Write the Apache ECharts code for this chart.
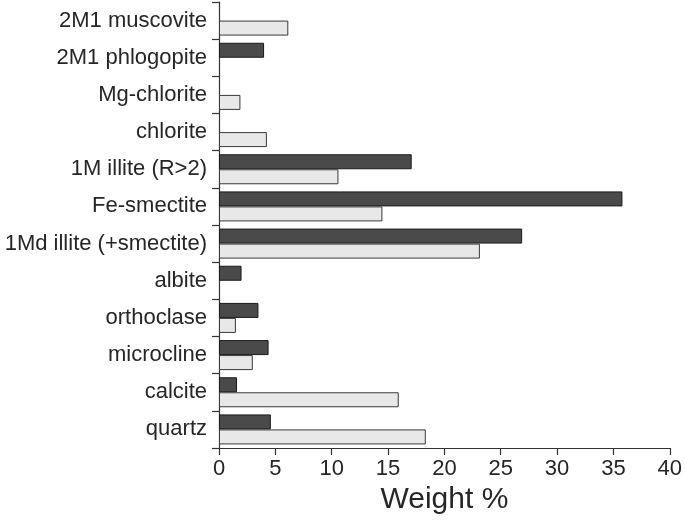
<!DOCTYPE html>
<html>
<head>
<meta charset="utf-8">
<script src="https://cdn.jsdelivr.net/npm/echarts@6/dist/echarts.min.js"></script>
<style>html,body{margin:0;padding:0;background:#fff;}#chart{width:685px;height:520px;}</style>
</head>
<body>
<div id="chart"></div>
<script>
const categories = ['2M1 muscovite','2M1 phlogopite','Mg-chlorite','chlorite','1M illite (R>2)','Fe-smectite','1Md illite (+smectite)','albite','orthoclase','microcline','calcite','quartz'];
const darkValues = [null, 4.0, null, null, 17.1, 35.8, 26.9, 2.0, 3.5, 4.4, 1.6, 4.6];
const lightValues = [6.15, null, 1.9, 4.25, 10.6, 14.5, 23.15, null, 1.5, 3.0, 15.95, 18.35];
const xTicks = [0, 5, 10, 15, 20, 25, 30, 35, 40];

const chart = echarts.init(document.getElementById('chart'), null, {renderer: 'canvas'});
const fontFam = 'Liberation Sans, Arial, sans-serif';
chart.setOption({
  animation: false,
  backgroundColor: '#ffffff',
  grid: {left: 219, right: 12, top: 2, bottom: 72, containLabel: false},
  xAxis: {
    type: 'value', min: xTicks[0], max: xTicks[xTicks.length - 1], interval: 5,
    name: 'Weight %', nameLocation: 'middle', nameGap: 37,
    nameTextStyle: {fontFamily: fontFam, fontSize: 30, color: '#262626'},
    axisLine: {show: true, lineStyle: {color: '#333', width: 1.2}},
    axisTick: {show: true, length: 7, lineStyle: {color: '#333', width: 1.2}},
    axisLabel: {fontFamily: fontFam, fontSize: 22, color: '#262626', margin: 10},
    splitLine: {show: false}
  },
  yAxis: {
    type: 'category', data: categories, inverse: true,
    axisLine: {show: true, lineStyle: {color: '#333', width: 1.2}},
    axisTick: {show: true, length: 7, lineStyle: {color: '#333', width: 1.2}},
    axisLabel: {fontFamily: fontFam, fontSize: 22, color: '#262626', margin: 12, padding: [0, 0, 5, 0]},
    splitLine: {show: false}
  },
  series: [
    {type: 'bar', name: 'dark', data: darkValues, barWidth: 15, barGap: '0%',
     itemStyle: {color: '#4a4a4a', borderColor: '#1a1a1a', borderWidth: 1}},
    {type: 'bar', name: 'light', data: lightValues, barWidth: 15, barGap: '0%',
     itemStyle: {color: '#e8e8e8', borderColor: '#3a3a3a', borderWidth: 1}}
  ]
});
</script>
</body>
</html>
